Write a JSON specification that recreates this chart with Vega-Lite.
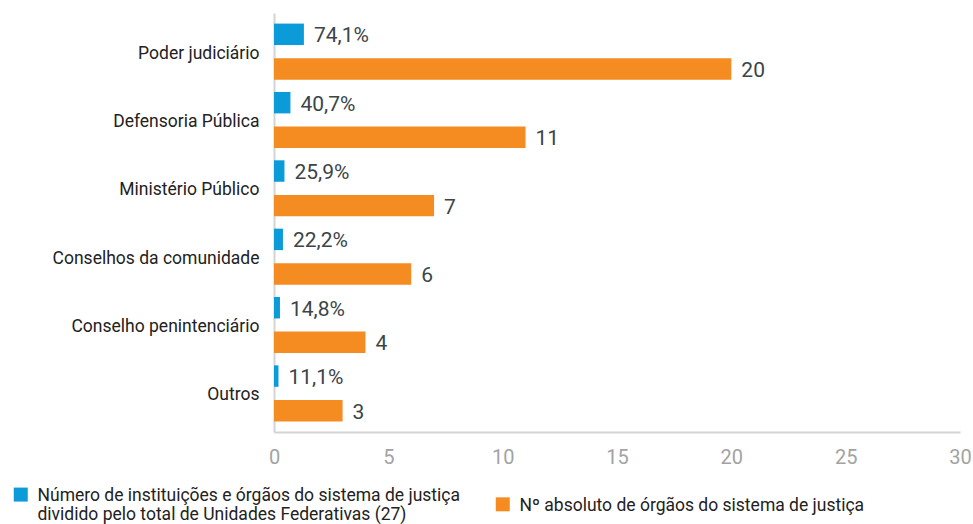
{
  "$schema": "https://vega.github.io/schema/vega-lite/v6.json",
  "width": 686,
  "height": 419,
  "autosize": {"type": "none"},
  "padding": {"left": 274, "top": 13, "right": 13, "bottom": 92},
  "background": "white",
  "data": {
    "values": [
      {"categoria": "Poder judiciário", "pct": 0.741, "n": 20},
      {"categoria": "Defensoria Pública", "pct": 0.407, "n": 11},
      {"categoria": "Ministério Público", "pct": 0.259, "n": 7},
      {"categoria": "Conselhos da comunidade", "pct": 0.222, "n": 6},
      {"categoria": "Conselho penintenciário", "pct": 0.148, "n": 4},
      {"categoria": "Outros", "pct": 0.111, "n": 3}
    ]
  },
  "encoding": {
    "y": {
      "field": "categoria",
      "type": "nominal",
      "sort": null,
      "scale": {"paddingInner": 0.18, "paddingOuter": 0.155},
      "axis": {
        "title": null,
        "labelFont": "Roboto",
        "labelFontSize": 17.5,
        "labelColor": "#222222",
        "labelPadding": 15,
        "labelOffset": 2,
        "labelLimit": 300,
        "ticks": false,
        "domainColor": "#d4d4d4",
        "domainWidth": 2
      }
    }
  },
  "layer": [
    {
      "encoding": {
        "x": {"field": "pct", "type": "quantitative", "scale": {"domain": [0, 17], "nice": false}, "axis": null},
        "yOffset": {
          "datum": "Número de instituições e órgãos do sistema de justiça|dividido pelo total de Unidades Federativas (27)",
          "scale": {
            "domain": [
              "Número de instituições e órgãos do sistema de justiça|dividido pelo total de Unidades Federativas (27)",
              "Nº absoluto de órgãos do sistema de justiça"
            ],
            "paddingInner": 0.38,
            "paddingOuter": 0
          }
        }
      },
      "layer": [
        {
          "mark": {"type": "bar"},
          "encoding": {
            "color": {
              "datum": "Número de instituições e órgãos do sistema de justiça|dividido pelo total de Unidades Federativas (27)",
              "scale": {
                "domain": [
                  "Número de instituições e órgãos do sistema de justiça|dividido pelo total de Unidades Federativas (27)",
                  "Nº absoluto de órgãos do sistema de justiça"
                ],
                "range": ["#0b9bd9", "#f58c22"]
              },
              "legend": {
                "orient": "none",
                "legendX": -262,
                "legendY": 465,
                "direction": "horizontal",
                "columns": 2,
                "title": null,
                "labelExpr": "split(datum.label, '|')",
                "labelFont": "Roboto",
                "labelFontSize": 17.5,
                "labelColor": "#222222",
                "labelLimit": 600,
                "labelBaseline": "top",
                "labelLineHeight": 21,
                "labelOffset": 8,
                "symbolType": "M-1,0.1 h2 v2 h-2 Z",
                "symbolSize": 196,
                "symbolStrokeWidth": 0,
                "symbolOpacity": 1,
                "columnPadding": 34
              }
            }
          }
        },
        {
          "mark": {"type": "text", "align": "left", "baseline": "middle", "dx": 10, "dy": 2, "font": "Roboto", "fontSize": 21, "color": "#3b4548"},
          "encoding": {"text": {"field": "pct", "format": ".1%"}}
        }
      ]
    },
    {
      "encoding": {
        "x": {
          "field": "n",
          "type": "quantitative",
          "scale": {"domain": [0, 30], "nice": false},
          "axis": {
            "title": null,
            "values": [0, 5, 10, 15, 20, 25, 30],
            "grid": false,
            "ticks": false,
            "domainColor": "#d4d4d4",
            "domainWidth": 2,
            "labelFont": "Roboto",
            "labelFontSize": 20,
            "labelColor": "#a3a3a3",
            "labelPadding": 15,
            "labelFlush": false
          }
        },
        "yOffset": {"datum": "Nº absoluto de órgãos do sistema de justiça"}
      },
      "layer": [
        {
          "mark": {"type": "bar"},
          "encoding": {"color": {"datum": "Nº absoluto de órgãos do sistema de justiça"}}
        },
        {
          "mark": {"type": "text", "align": "left", "baseline": "middle", "dx": 10, "dy": 2, "font": "Roboto", "fontSize": 21, "color": "#3b4548"},
          "encoding": {"text": {"field": "n", "type": "quantitative"}}
        }
      ]
    }
  ],
  "resolve": {"scale": {"x": "independent"}},
  "config": {
    "view": {"stroke": null},
    "axis": {"grid": false},
    "locale": {
      "number": {"decimal": ",", "thousands": ".", "grouping": [3], "currency": ["R$", ""]}
    }
  }
}
